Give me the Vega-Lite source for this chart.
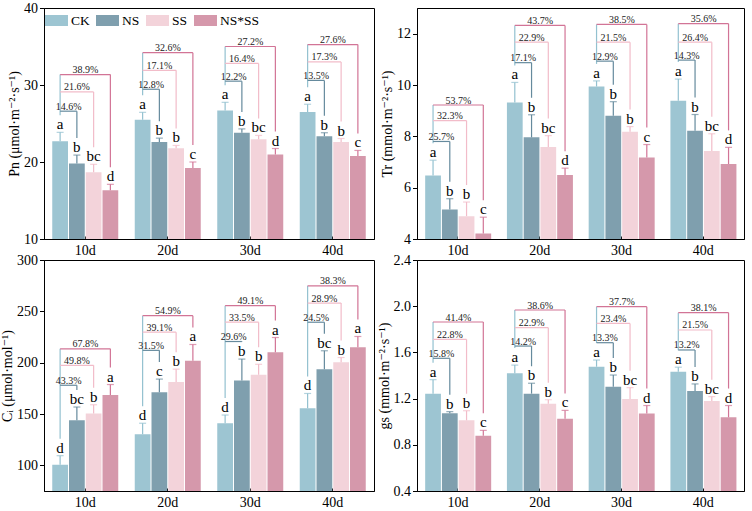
{
"$schema": "https://vega.github.io/schema/vega-lite/v6.json",
"padding": {"left": 0, "top": 0, "right": 2, "bottom": 0},
"config": {
 "view": {"stroke": "black", "strokeWidth": 1},
 "font": "Liberation Serif",
 "axis": {"domainColor": "black", "tickColor": "black", "labelColor": "black", "titleColor": "black", "labelFont": "Liberation Serif", "titleFont": "Liberation Serif, DejaVu Serif", "labelFontSize": 14, "titleFontSize": 14, "titleFontWeight": "normal", "grid": false},
 "text": {"font": "Liberation Serif"}
},
"datasets": {"phot": [
{"panel":"Pn","day":"10d","trt":"CK","mean":22.7,"upper":23.85,"letter":"a","level":31.35},
{"panel":"Pn","day":"10d","trt":"NS","mean":19.81,"upper":20.9,"letter":"b","level":26.6,"pct":"14.6%","vs":"CK"},
{"panel":"Pn","day":"10d","trt":"SS","mean":18.67,"upper":19.7,"letter":"bc","level":29.1,"pct":"21.6%","vs":"CK"},
{"panel":"Pn","day":"10d","trt":"NS*SS","mean":16.34,"upper":17.1,"letter":"d","level":31.35,"pct":"38.9%","vs":"CK"},
{"panel":"Pn","day":"20d","trt":"CK","mean":25.5,"upper":26.45,"letter":"a","level":34.2},
{"panel":"Pn","day":"20d","trt":"NS","mean":22.61,"upper":23.1,"letter":"b","level":29.45,"pct":"12.8%","vs":"CK"},
{"panel":"Pn","day":"20d","trt":"SS","mean":21.78,"upper":22.15,"letter":"b","level":31.9,"pct":"17.1%","vs":"CK"},
{"panel":"Pn","day":"20d","trt":"NS*SS","mean":19.23,"upper":20.0,"letter":"c","level":34.2,"pct":"32.6%","vs":"CK"},
{"panel":"Pn","day":"30d","trt":"CK","mean":26.7,"upper":27.75,"letter":"a","level":35.0},
{"panel":"Pn","day":"30d","trt":"NS","mean":23.8,"upper":24.3,"letter":"b","level":30.5,"pct":"12.2%","vs":"CK"},
{"panel":"Pn","day":"30d","trt":"SS","mean":22.94,"upper":23.45,"letter":"bc","level":32.8,"pct":"16.4%","vs":"CK"},
{"panel":"Pn","day":"30d","trt":"NS*SS","mean":20.99,"upper":21.75,"letter":"d","level":35.0,"pct":"27.2%","vs":"CK"},
{"panel":"Pn","day":"40d","trt":"CK","mean":26.5,"upper":27.5,"letter":"a","level":35.25},
{"panel":"Pn","day":"40d","trt":"NS","mean":23.35,"upper":23.8,"letter":"b","level":30.6,"pct":"13.5%","vs":"CK"},
{"panel":"Pn","day":"40d","trt":"SS","mean":22.59,"upper":23.05,"letter":"b","level":33.0,"pct":"17.3%","vs":"CK"},
{"panel":"Pn","day":"40d","trt":"NS*SS","mean":20.77,"upper":21.5,"letter":"c","level":35.25,"pct":"27.6%","vs":"CK"},
{"panel":"Tr","day":"10d","trt":"CK","mean":6.47,"upper":7.07,"letter":"a","level":9.22},
{"panel":"Tr","day":"10d","trt":"NS","mean":5.15,"upper":5.57,"letter":"b","level":7.8,"pct":"25.7%","vs":"CK"},
{"panel":"Tr","day":"10d","trt":"SS","mean":4.89,"upper":5.44,"letter":"b","level":8.61,"pct":"32.3%","vs":"CK"},
{"panel":"Tr","day":"10d","trt":"NS*SS","mean":4.21,"upper":4.85,"letter":"c","level":9.22,"pct":"53.7%","vs":"CK"},
{"panel":"Tr","day":"20d","trt":"CK","mean":9.32,"upper":10.1,"letter":"a","level":12.32},
{"panel":"Tr","day":"20d","trt":"NS","mean":7.96,"upper":8.84,"letter":"b","level":10.87,"pct":"17.1%","vs":"CK"},
{"panel":"Tr","day":"20d","trt":"SS","mean":7.58,"upper":8.03,"letter":"bc","level":11.67,"pct":"22.9%","vs":"CK"},
{"panel":"Tr","day":"20d","trt":"NS*SS","mean":6.49,"upper":6.76,"letter":"d","level":12.32,"pct":"43.7%","vs":"CK"},
{"panel":"Tr","day":"30d","trt":"CK","mean":9.94,"upper":10.16,"letter":"a","level":12.36},
{"panel":"Tr","day":"30d","trt":"NS","mean":8.8,"upper":9.35,"letter":"b","level":10.93,"pct":"12.9%","vs":"CK"},
{"panel":"Tr","day":"30d","trt":"SS","mean":8.18,"upper":8.38,"letter":"b","level":11.67,"pct":"21.5%","vs":"CK"},
{"panel":"Tr","day":"30d","trt":"NS*SS","mean":7.18,"upper":7.68,"letter":"c","level":12.36,"pct":"38.5%","vs":"CK"},
{"panel":"Tr","day":"40d","trt":"CK","mean":9.39,"upper":10.23,"letter":"a","level":12.39},
{"panel":"Tr","day":"40d","trt":"NS","mean":8.22,"upper":8.85,"letter":"b","level":10.97,"pct":"14.3%","vs":"CK"},
{"panel":"Tr","day":"40d","trt":"SS","mean":7.43,"upper":8.1,"letter":"bc","level":11.67,"pct":"26.4%","vs":"CK"},
{"panel":"Tr","day":"40d","trt":"NS*SS","mean":6.92,"upper":7.57,"letter":"d","level":12.39,"pct":"35.6%","vs":"CK"},
{"panel":"Ci","day":"10d","trt":"CK","mean":100.5,"upper":109.4,"letter":"d","level":213.5},
{"panel":"Ci","day":"10d","trt":"NS","mean":144,"upper":156.8,"letter":"bc","level":178,"pct":"43.3%","vs":"CK"},
{"panel":"Ci","day":"10d","trt":"SS","mean":150.5,"upper":159,"letter":"b","level":197.4,"pct":"49.8%","vs":"CK"},
{"panel":"Ci","day":"10d","trt":"NS*SS","mean":168.6,"upper":178.7,"letter":"a","level":213.5,"pct":"67.8%","vs":"CK"},
{"panel":"Ci","day":"20d","trt":"CK","mean":130.3,"upper":141,"letter":"d","level":245.8},
{"panel":"Ci","day":"20d","trt":"NS","mean":171.3,"upper":184,"letter":"c","level":212,"pct":"31.5%","vs":"CK"},
{"panel":"Ci","day":"20d","trt":"SS","mean":181.2,"upper":193.7,"letter":"b","level":229.7,"pct":"39.1%","vs":"CK"},
{"panel":"Ci","day":"20d","trt":"NS*SS","mean":201.8,"upper":217.7,"letter":"a","level":245.8,"pct":"54.9%","vs":"CK"},
{"panel":"Ci","day":"30d","trt":"CK","mean":141,"upper":149,"letter":"d","level":255.5},
{"panel":"Ci","day":"30d","trt":"NS","mean":182.7,"upper":203.5,"letter":"b","level":220.6,"pct":"29.6%","vs":"CK"},
{"panel":"Ci","day":"30d","trt":"SS","mean":188.2,"upper":198.4,"letter":"b","level":239.4,"pct":"33.5%","vs":"CK"},
{"panel":"Ci","day":"30d","trt":"NS*SS","mean":210.2,"upper":224.5,"letter":"a","level":255.5,"pct":"49.1%","vs":"CK"},
{"panel":"Ci","day":"40d","trt":"CK","mean":155.5,"upper":170,"letter":"d","level":274.8},
{"panel":"Ci","day":"40d","trt":"NS","mean":193.6,"upper":211.6,"letter":"bc","level":239.4,"pct":"24.5%","vs":"CK"},
{"panel":"Ci","day":"40d","trt":"SS","mean":200.4,"upper":205,"letter":"b","level":258,"pct":"28.9%","vs":"CK"},
{"panel":"Ci","day":"40d","trt":"NS*SS","mean":215,"upper":225.5,"letter":"a","level":274.8,"pct":"38.3%","vs":"CK"},
{"panel":"gs","day":"10d","trt":"CK","mean":1.243,"upper":1.364,"letter":"a","level":1.863},
{"panel":"gs","day":"10d","trt":"NS","mean":1.073,"upper":1.087,"letter":"b","level":1.549,"pct":"15.8%","vs":"CK"},
{"panel":"gs","day":"10d","trt":"SS","mean":1.012,"upper":1.095,"letter":"b","level":1.713,"pct":"22.8%","vs":"CK"},
{"panel":"gs","day":"10d","trt":"NS*SS","mean":0.879,"upper":0.925,"letter":"c","level":1.863,"pct":"41.4%","vs":"CK"},
{"panel":"gs","day":"20d","trt":"CK","mean":1.42,"upper":1.49,"letter":"a","level":1.967},
{"panel":"gs","day":"20d","trt":"NS","mean":1.243,"upper":1.333,"letter":"b","level":1.655,"pct":"14.2%","vs":"CK"},
{"panel":"gs","day":"20d","trt":"SS","mean":1.155,"upper":1.19,"letter":"b","level":1.814,"pct":"22.9%","vs":"CK"},
{"panel":"gs","day":"20d","trt":"NS*SS","mean":1.025,"upper":1.098,"letter":"c","level":1.967,"pct":"38.6%","vs":"CK"},
{"panel":"gs","day":"30d","trt":"CK","mean":1.476,"upper":1.534,"letter":"a","level":1.996},
{"panel":"gs","day":"30d","trt":"NS","mean":1.303,"upper":1.404,"letter":"b","level":1.684,"pct":"13.3%","vs":"CK"},
{"panel":"gs","day":"30d","trt":"SS","mean":1.196,"upper":1.295,"letter":"bc","level":1.851,"pct":"23.4%","vs":"CK"},
{"panel":"gs","day":"30d","trt":"NS*SS","mean":1.072,"upper":1.14,"letter":"d","level":1.996,"pct":"37.7%","vs":"CK"},
{"panel":"gs","day":"40d","trt":"CK","mean":1.433,"upper":1.472,"letter":"a","level":1.944},
{"panel":"gs","day":"40d","trt":"NS","mean":1.266,"upper":1.327,"letter":"b","level":1.621,"pct":"13.2%","vs":"CK"},
{"panel":"gs","day":"40d","trt":"SS","mean":1.179,"upper":1.217,"letter":"bc","level":1.794,"pct":"21.5%","vs":"CK"},
{"panel":"gs","day":"40d","trt":"NS*SS","mean":1.038,"upper":1.14,"letter":"d","level":1.944,"pct":"38.1%","vs":"CK"}
]},
"columns": 2,
"spacing": {"row": -6, "column": 1},
"resolve": {"scale": {"color": "independent", "stroke": "independent", "fill": "independent"}, "legend": {"color": "independent", "stroke": "independent", "fill": "independent"}},
"concat": [
{
"width": 330, "height": 231,
"data": {"name": "phot"},
"transform": [{"filter": "datum.panel === 'Pn'"}],
"encoding": {
 "x": {"field": "day", "type": "nominal", "title": null, "scale": {"paddingInner": 0.2, "paddingOuter": 0.1}, "axis": {"labelAngle": 0, "tickSize": -3, "labelPadding": 7}},
 "xOffset": {"field": "trt", "type": "nominal", "sort": ["CK","NS","SS","NS*SS"], "scale": {"domain": ["CK","NS","SS","NS*SS"], "paddingInner": 0.06, "paddingOuter": 0}}
},
"layer": [
 {"mark": {"type": "bar", "clip": true}, "encoding": {
   "y": {"field": "mean", "type": "quantitative", "scale": {"domain": [10, 40], "zero": false, "nice": false}, "axis": {"title": "Pn (μmol·m⁻²·s⁻¹)", "values": [10,15,20,25,30,35,40], "tickSize": 4.5, "labelPadding": 2, "titlePadding": 2}},
   "color": {"field": "trt", "type": "nominal", "scale": {"domain": ["CK","NS","SS","NS*SS"], "range": ["#9DC5D2","#7F9FAE","#F3D3DA","#D598AB"]}, "legend": {"title": null, "orient": "top-left", "direction": "horizontal", "columns": 4, "symbolType": "M-1,-0.48H1V0.48H-1Z", "symbolSize": 529, "symbolStrokeWidth": 0, "labelFont": "Liberation Serif", "labelFontSize": 13.5, "labelColor": "black", "columnPadding": 6, "labelOffset": 3, "offset": 0, "padding": 1}}
 }},
 {"mark": {"type": "rule", "strokeWidth": 1.2}, "encoding": {
   "y": {"field": "mean", "type": "quantitative", "scale": {"domain": [10, 40], "zero": false, "nice": false}},
   "y2": {"field": "upper"},
   "stroke": {"field": "trt", "type": "nominal", "scale": {"domain": ["CK","NS","SS","NS*SS"], "range": ["#93C1D0","#658A9D","#F2BCC9","#D27496"]}, "legend": null}
 }},
 {"mark": {"type": "tick", "size": 7, "thickness": 1.2, "orient": "horizontal"}, "encoding": {
   "y": {"field": "upper", "type": "quantitative", "scale": {"domain": [10, 40], "zero": false, "nice": false}},
   "fill": {"field": "trt", "type": "nominal", "scale": {"domain": ["CK","NS","SS","NS*SS"], "range": ["#93C1D0","#658A9D","#F2BCC9","#D27496"]}, "legend": null}
 }},
 {"mark": {"type": "text", "dy": -3, "baseline": "alphabetic", "fontSize": 15, "color": "black"}, "encoding": {
   "y": {"field": "upper", "type": "quantitative", "scale": {"domain": [10, 40], "zero": false, "nice": false}},
   "text": {"field": "letter"}
 }},
 {"mark": {"type": "rule", "strokeWidth": 1.2, "yOffset": -17}, "encoding": {
   "y": {"field": "upper", "type": "quantitative", "scale": {"domain": [10, 40], "zero": false, "nice": false}},
   "y2": {"field": "level"},
   "stroke": {"field": "trt", "type": "nominal", "scale": {"domain": ["CK","NS","SS","NS*SS"], "range": ["#93C1D0","#658A9D","#F2BCC9","#D27496"]}, "legend": null}
 }},
 {"transform": [{"filter": "datum.trt !== 'CK'"}, {"fold": ["vs", "trt"], "as": ["end", "pos"]}],
  "mark": {"type": "line", "strokeWidth": 1.2}, "encoding": {
   "xOffset": {"field": "pos", "type": "nominal", "scale": {"domain": ["CK","NS","SS","NS*SS"], "paddingInner": 0.06, "paddingOuter": 0}},
   "y": {"field": "level", "type": "quantitative", "scale": {"domain": [10, 40], "zero": false, "nice": false}},
   "detail": [{"field": "day"}, {"field": "trt"}],
   "stroke": {"field": "trt", "type": "nominal", "scale": {"domain": ["CK","NS","SS","NS*SS"], "range": ["#93C1D0","#658A9D","#F2BCC9","#D27496"]}, "legend": null}
 }},
 {"transform": [{"filter": "datum.trt === 'NS'"}], "mark": {"type": "text", "dx": -8.3, "dy": -1.5, "baseline": "alphabetic", "fontSize": 10, "color": "#222"}, "encoding": {
   "y": {"field": "level", "type": "quantitative", "scale": {"domain": [10, 40], "zero": false, "nice": false}}, "text": {"field": "pct"}}},
 {"transform": [{"filter": "datum.trt === 'SS'"}], "mark": {"type": "text", "dx": -16.6, "dy": -1.5, "baseline": "alphabetic", "fontSize": 10, "color": "#222"}, "encoding": {
   "y": {"field": "level", "type": "quantitative", "scale": {"domain": [10, 40], "zero": false, "nice": false}}, "text": {"field": "pct"}}},
 {"transform": [{"filter": "datum.trt === 'NS*SS'"}], "mark": {"type": "text", "dx": -24.9, "dy": -1.5, "baseline": "alphabetic", "fontSize": 10, "color": "#222"}, "encoding": {
   "y": {"field": "level", "type": "quantitative", "scale": {"domain": [10, 40], "zero": false, "nice": false}}, "text": {"field": "pct"}}}
]
},
{
"width": 327, "height": 231,
"data": {"name": "phot"},
"transform": [{"filter": "datum.panel === 'Tr'"}],
"encoding": {
 "x": {"field": "day", "type": "nominal", "title": null, "scale": {"paddingInner": 0.2, "paddingOuter": 0.1}, "axis": {"labelAngle": 0, "tickSize": -3, "labelPadding": 7}},
 "xOffset": {"field": "trt", "type": "nominal", "sort": ["CK","NS","SS","NS*SS"], "scale": {"domain": ["CK","NS","SS","NS*SS"], "paddingInner": 0.06, "paddingOuter": 0}}
},
"layer": [
 {"mark": {"type": "bar", "clip": true}, "encoding": {
   "y": {"field": "mean", "type": "quantitative", "scale": {"domain": [4, 13], "zero": false, "nice": false}, "axis": {"title": "Tr (mmol·m⁻²·s⁻¹)", "values": [4,6,8,10,12], "tickSize": 4.5, "labelPadding": 2, "titlePadding": 2}},
   "color": {"field": "trt", "type": "nominal", "scale": {"domain": ["CK","NS","SS","NS*SS"], "range": ["#9DC5D2","#7F9FAE","#F3D3DA","#D598AB"]}, "legend": null}
 }},
 {"mark": {"type": "rule", "strokeWidth": 1.2}, "encoding": {
   "y": {"field": "mean", "type": "quantitative", "scale": {"domain": [4, 13], "zero": false, "nice": false}},
   "y2": {"field": "upper"},
   "stroke": {"field": "trt", "type": "nominal", "scale": {"domain": ["CK","NS","SS","NS*SS"], "range": ["#93C1D0","#658A9D","#F2BCC9","#D27496"]}, "legend": null}
 }},
 {"mark": {"type": "tick", "size": 7, "thickness": 1.2, "orient": "horizontal"}, "encoding": {
   "y": {"field": "upper", "type": "quantitative", "scale": {"domain": [4, 13], "zero": false, "nice": false}},
   "fill": {"field": "trt", "type": "nominal", "scale": {"domain": ["CK","NS","SS","NS*SS"], "range": ["#93C1D0","#658A9D","#F2BCC9","#D27496"]}, "legend": null}
 }},
 {"mark": {"type": "text", "dy": -3, "baseline": "alphabetic", "fontSize": 15, "color": "black"}, "encoding": {
   "y": {"field": "upper", "type": "quantitative", "scale": {"domain": [4, 13], "zero": false, "nice": false}},
   "text": {"field": "letter"}
 }},
 {"mark": {"type": "rule", "strokeWidth": 1.2, "yOffset": -17}, "encoding": {
   "y": {"field": "upper", "type": "quantitative", "scale": {"domain": [4, 13], "zero": false, "nice": false}},
   "y2": {"field": "level"},
   "stroke": {"field": "trt", "type": "nominal", "scale": {"domain": ["CK","NS","SS","NS*SS"], "range": ["#93C1D0","#658A9D","#F2BCC9","#D27496"]}, "legend": null}
 }},
 {"transform": [{"filter": "datum.trt !== 'CK'"}, {"fold": ["vs", "trt"], "as": ["end", "pos"]}],
  "mark": {"type": "line", "strokeWidth": 1.2}, "encoding": {
   "xOffset": {"field": "pos", "type": "nominal", "scale": {"domain": ["CK","NS","SS","NS*SS"], "paddingInner": 0.06, "paddingOuter": 0}},
   "y": {"field": "level", "type": "quantitative", "scale": {"domain": [4, 13], "zero": false, "nice": false}},
   "detail": [{"field": "day"}, {"field": "trt"}],
   "stroke": {"field": "trt", "type": "nominal", "scale": {"domain": ["CK","NS","SS","NS*SS"], "range": ["#93C1D0","#658A9D","#F2BCC9","#D27496"]}, "legend": null}
 }},
 {"transform": [{"filter": "datum.trt === 'NS'"}], "mark": {"type": "text", "dx": -8.3, "dy": -1.5, "baseline": "alphabetic", "fontSize": 10, "color": "#222"}, "encoding": {
   "y": {"field": "level", "type": "quantitative", "scale": {"domain": [4, 13], "zero": false, "nice": false}}, "text": {"field": "pct"}}},
 {"transform": [{"filter": "datum.trt === 'SS'"}], "mark": {"type": "text", "dx": -16.6, "dy": -1.5, "baseline": "alphabetic", "fontSize": 10, "color": "#222"}, "encoding": {
   "y": {"field": "level", "type": "quantitative", "scale": {"domain": [4, 13], "zero": false, "nice": false}}, "text": {"field": "pct"}}},
 {"transform": [{"filter": "datum.trt === 'NS*SS'"}], "mark": {"type": "text", "dx": -24.9, "dy": -1.5, "baseline": "alphabetic", "fontSize": 10, "color": "#222"}, "encoding": {
   "y": {"field": "level", "type": "quantitative", "scale": {"domain": [4, 13], "zero": false, "nice": false}}, "text": {"field": "pct"}}}
]
},
{
"width": 330, "height": 231,
"data": {"name": "phot"},
"transform": [{"filter": "datum.panel === 'Ci'"}],
"encoding": {
 "x": {"field": "day", "type": "nominal", "title": null, "scale": {"paddingInner": 0.2, "paddingOuter": 0.1}, "axis": {"labelAngle": 0, "tickSize": -3, "labelPadding": 7}},
 "xOffset": {"field": "trt", "type": "nominal", "sort": ["CK","NS","SS","NS*SS"], "scale": {"domain": ["CK","NS","SS","NS*SS"], "paddingInner": 0.06, "paddingOuter": 0}}
},
"layer": [
 {"mark": {"type": "bar", "clip": true}, "encoding": {
   "y": {"field": "mean", "type": "quantitative", "scale": {"domain": [75, 300], "zero": false, "nice": false}, "axis": {"title": "Cᵢ (μmol·mol⁻¹)", "values": [100,150,200,250,300], "tickSize": 4.5, "labelPadding": 2, "titlePadding": 2}},
   "color": {"field": "trt", "type": "nominal", "scale": {"domain": ["CK","NS","SS","NS*SS"], "range": ["#9DC5D2","#7F9FAE","#F3D3DA","#D598AB"]}, "legend": null}
 }},
 {"mark": {"type": "rule", "strokeWidth": 1.2}, "encoding": {
   "y": {"field": "mean", "type": "quantitative", "scale": {"domain": [75, 300], "zero": false, "nice": false}},
   "y2": {"field": "upper"},
   "stroke": {"field": "trt", "type": "nominal", "scale": {"domain": ["CK","NS","SS","NS*SS"], "range": ["#93C1D0","#658A9D","#F2BCC9","#D27496"]}, "legend": null}
 }},
 {"mark": {"type": "tick", "size": 7, "thickness": 1.2, "orient": "horizontal"}, "encoding": {
   "y": {"field": "upper", "type": "quantitative", "scale": {"domain": [75, 300], "zero": false, "nice": false}},
   "fill": {"field": "trt", "type": "nominal", "scale": {"domain": ["CK","NS","SS","NS*SS"], "range": ["#93C1D0","#658A9D","#F2BCC9","#D27496"]}, "legend": null}
 }},
 {"mark": {"type": "text", "dy": -3, "baseline": "alphabetic", "fontSize": 15, "color": "black"}, "encoding": {
   "y": {"field": "upper", "type": "quantitative", "scale": {"domain": [75, 300], "zero": false, "nice": false}},
   "text": {"field": "letter"}
 }},
 {"mark": {"type": "rule", "strokeWidth": 1.2, "yOffset": -17}, "encoding": {
   "y": {"field": "upper", "type": "quantitative", "scale": {"domain": [75, 300], "zero": false, "nice": false}},
   "y2": {"field": "level"},
   "stroke": {"field": "trt", "type": "nominal", "scale": {"domain": ["CK","NS","SS","NS*SS"], "range": ["#93C1D0","#658A9D","#F2BCC9","#D27496"]}, "legend": null}
 }},
 {"transform": [{"filter": "datum.trt !== 'CK'"}, {"fold": ["vs", "trt"], "as": ["end", "pos"]}],
  "mark": {"type": "line", "strokeWidth": 1.2}, "encoding": {
   "xOffset": {"field": "pos", "type": "nominal", "scale": {"domain": ["CK","NS","SS","NS*SS"], "paddingInner": 0.06, "paddingOuter": 0}},
   "y": {"field": "level", "type": "quantitative", "scale": {"domain": [75, 300], "zero": false, "nice": false}},
   "detail": [{"field": "day"}, {"field": "trt"}],
   "stroke": {"field": "trt", "type": "nominal", "scale": {"domain": ["CK","NS","SS","NS*SS"], "range": ["#93C1D0","#658A9D","#F2BCC9","#D27496"]}, "legend": null}
 }},
 {"transform": [{"filter": "datum.trt === 'NS'"}], "mark": {"type": "text", "dx": -8.3, "dy": -1.5, "baseline": "alphabetic", "fontSize": 10, "color": "#222"}, "encoding": {
   "y": {"field": "level", "type": "quantitative", "scale": {"domain": [75, 300], "zero": false, "nice": false}}, "text": {"field": "pct"}}},
 {"transform": [{"filter": "datum.trt === 'SS'"}], "mark": {"type": "text", "dx": -16.6, "dy": -1.5, "baseline": "alphabetic", "fontSize": 10, "color": "#222"}, "encoding": {
   "y": {"field": "level", "type": "quantitative", "scale": {"domain": [75, 300], "zero": false, "nice": false}}, "text": {"field": "pct"}}},
 {"transform": [{"filter": "datum.trt === 'NS*SS'"}], "mark": {"type": "text", "dx": -24.9, "dy": -1.5, "baseline": "alphabetic", "fontSize": 10, "color": "#222"}, "encoding": {
   "y": {"field": "level", "type": "quantitative", "scale": {"domain": [75, 300], "zero": false, "nice": false}}, "text": {"field": "pct"}}}
]
},
{
"width": 327, "height": 231,
"data": {"name": "phot"},
"transform": [{"filter": "datum.panel === 'gs'"}],
"encoding": {
 "x": {"field": "day", "type": "nominal", "title": null, "scale": {"paddingInner": 0.2, "paddingOuter": 0.1}, "axis": {"labelAngle": 0, "tickSize": -3, "labelPadding": 7}},
 "xOffset": {"field": "trt", "type": "nominal", "sort": ["CK","NS","SS","NS*SS"], "scale": {"domain": ["CK","NS","SS","NS*SS"], "paddingInner": 0.06, "paddingOuter": 0}}
},
"layer": [
 {"mark": {"type": "bar", "clip": true}, "encoding": {
   "y": {"field": "mean", "type": "quantitative", "scale": {"domain": [0.4, 2.4], "zero": false, "nice": false}, "axis": {"title": "gs (mmol·m⁻²·s⁻¹)", "values": [0.4,0.8,1.2,1.6,2.0,2.4], "format": ".1f", "tickSize": 4.5, "labelPadding": 2, "titlePadding": 2}},
   "color": {"field": "trt", "type": "nominal", "scale": {"domain": ["CK","NS","SS","NS*SS"], "range": ["#9DC5D2","#7F9FAE","#F3D3DA","#D598AB"]}, "legend": null}
 }},
 {"mark": {"type": "rule", "strokeWidth": 1.2}, "encoding": {
   "y": {"field": "mean", "type": "quantitative", "scale": {"domain": [0.4, 2.4], "zero": false, "nice": false}},
   "y2": {"field": "upper"},
   "stroke": {"field": "trt", "type": "nominal", "scale": {"domain": ["CK","NS","SS","NS*SS"], "range": ["#93C1D0","#658A9D","#F2BCC9","#D27496"]}, "legend": null}
 }},
 {"mark": {"type": "tick", "size": 7, "thickness": 1.2, "orient": "horizontal"}, "encoding": {
   "y": {"field": "upper", "type": "quantitative", "scale": {"domain": [0.4, 2.4], "zero": false, "nice": false}},
   "fill": {"field": "trt", "type": "nominal", "scale": {"domain": ["CK","NS","SS","NS*SS"], "range": ["#93C1D0","#658A9D","#F2BCC9","#D27496"]}, "legend": null}
 }},
 {"mark": {"type": "text", "dy": -3, "baseline": "alphabetic", "fontSize": 15, "color": "black"}, "encoding": {
   "y": {"field": "upper", "type": "quantitative", "scale": {"domain": [0.4, 2.4], "zero": false, "nice": false}},
   "text": {"field": "letter"}
 }},
 {"mark": {"type": "rule", "strokeWidth": 1.2, "yOffset": -17}, "encoding": {
   "y": {"field": "upper", "type": "quantitative", "scale": {"domain": [0.4, 2.4], "zero": false, "nice": false}},
   "y2": {"field": "level"},
   "stroke": {"field": "trt", "type": "nominal", "scale": {"domain": ["CK","NS","SS","NS*SS"], "range": ["#93C1D0","#658A9D","#F2BCC9","#D27496"]}, "legend": null}
 }},
 {"transform": [{"filter": "datum.trt !== 'CK'"}, {"fold": ["vs", "trt"], "as": ["end", "pos"]}],
  "mark": {"type": "line", "strokeWidth": 1.2}, "encoding": {
   "xOffset": {"field": "pos", "type": "nominal", "scale": {"domain": ["CK","NS","SS","NS*SS"], "paddingInner": 0.06, "paddingOuter": 0}},
   "y": {"field": "level", "type": "quantitative", "scale": {"domain": [0.4, 2.4], "zero": false, "nice": false}},
   "detail": [{"field": "day"}, {"field": "trt"}],
   "stroke": {"field": "trt", "type": "nominal", "scale": {"domain": ["CK","NS","SS","NS*SS"], "range": ["#93C1D0","#658A9D","#F2BCC9","#D27496"]}, "legend": null}
 }},
 {"transform": [{"filter": "datum.trt === 'NS'"}], "mark": {"type": "text", "dx": -8.3, "dy": -1.5, "baseline": "alphabetic", "fontSize": 10, "color": "#222"}, "encoding": {
   "y": {"field": "level", "type": "quantitative", "scale": {"domain": [0.4, 2.4], "zero": false, "nice": false}}, "text": {"field": "pct"}}},
 {"transform": [{"filter": "datum.trt === 'SS'"}], "mark": {"type": "text", "dx": -16.6, "dy": -1.5, "baseline": "alphabetic", "fontSize": 10, "color": "#222"}, "encoding": {
   "y": {"field": "level", "type": "quantitative", "scale": {"domain": [0.4, 2.4], "zero": false, "nice": false}}, "text": {"field": "pct"}}},
 {"transform": [{"filter": "datum.trt === 'NS*SS'"}], "mark": {"type": "text", "dx": -24.9, "dy": -1.5, "baseline": "alphabetic", "fontSize": 10, "color": "#222"}, "encoding": {
   "y": {"field": "level", "type": "quantitative", "scale": {"domain": [0.4, 2.4], "zero": false, "nice": false}}, "text": {"field": "pct"}}}
]
}
]
}
